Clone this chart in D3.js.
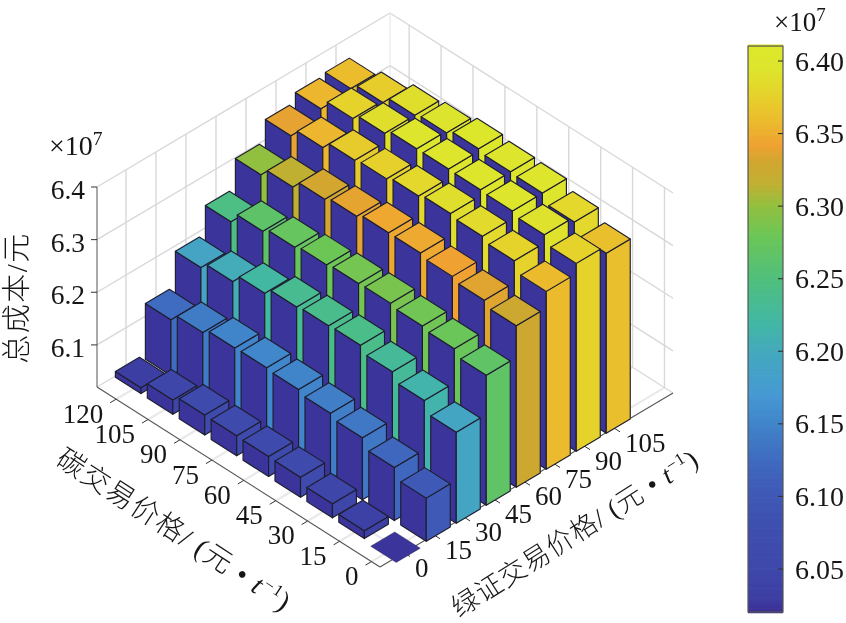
<!DOCTYPE html>
<html>
<head>
<meta charset="utf-8">
<script src="https://cdnjs.cloudflare.com/ajax/libs/d3/7.8.5/d3.min.js"></script>
<style>
html,body{margin:0;padding:0;background:#fff;}
svg{display:block;filter:blur(0.5px);}
text{font-family:"Liberation Serif","Noto Sans CJK SC",serif;fill:#161616;}
</style>
</head>
<body>
<svg id="chart" width="846" height="623"></svg>
<script>
const greenTicks = [0,15,30,45,60,75,90,105];
const carbonTicks = [0,15,30,45,60,75,90,105,120];
const zTicks = [6.1,6.2,6.3,6.4];
const barTicks = [6.05,6.10,6.15,6.20,6.25,6.30,6.35,6.40];

// cost (x10^7) per carbon price, one list per green certificate price
const costG0   = [6.014,6.035,6.047,6.058,6.058,6.058,6.058,6.047,6.031];
const costG15  = [6.102,6.121,6.138,6.145,6.151,6.153,6.151,6.141,6.126];
const costG30  = [6.193,6.214,6.229,6.240,6.238,6.234,6.221,6.204,6.191];
const costG45  = [6.267,6.278,6.282,6.286,6.284,6.280,6.274,6.265,6.244];
const costG60  = [6.327,6.336,6.342,6.347,6.346,6.338,6.331,6.315,6.299];
const costG75  = [6.358,6.377,6.384,6.388,6.382,6.375,6.371,6.356,6.339];
const costG90  = [6.377,6.392,6.398,6.399,6.399,6.398,6.388,6.377,6.356];
const costG105 = [6.362,6.382,6.398,6.399,6.403,6.394,6.388,6.373,6.360];
const costRows = [costG0,costG15,costG30,costG45,costG60,costG75,costG90,costG105];

const colorAt  = [6.02,6.03,6.05,6.08,6.10,6.12,6.15,6.17,6.20,6.22,6.25,6.28,6.30,6.315,6.33,6.342,6.36,6.38,6.395,6.41];
const colorHex = ["#3c2f93","#3d3ea3","#3e48aa","#3e4fb0","#3f58b6","#3f66bd","#4084ca","#4699d3","#44a9bd","#42b8a4","#50bf7c","#6cc656","#93c040","#c0b032","#d0a62f","#efa231","#ebbd2d","#e4d62b","#dde52d","#dce82a"];

const color = d3.scaleLinear().domain(colorAt).range(colorHex).clamp(true);

const svg = d3.select("#chart");

const gU = d3.scaleLinear().domain([-12,134.5]).range([0,1]);
const cU = d3.scaleLinear().domain([-4,129]).range([0,1]);
const zH = d3.scaleLinear().domain([6.02,6.4]).range([0,200]);
const front = {x:380,y:567}, gVec = {x:293,y:-174}, cVec = {x:-283,y:-180};

function project(g,c,z,lift){
  return [front.x + gU(g)*gVec.x + cU(c)*cVec.x,
          front.y + gU(g)*gVec.y + cU(c)*cVec.y - zH(z) - (lift||0)];
}
const gMin=-12,gMax=134.5,cMin=-4,cMax=129,zMin=6.02,zMax=6.4;
const line = d3.line();
const poly = pts => line(pts)+"Z";

// walls and floor
const grid = svg.append("g").attr("fill","none");
function seg(a,b,col,w){grid.append("path").attr("d",line([a,b])).attr("stroke",col).attr("stroke-width",w);}
const gridCol="#d8d8d8";
const wallShift=2.5;
greenTicks.forEach(g=>{
  seg(project(g,cMin,zMin),project(g,cMax,zMin),"#e9e9e9",2.2);
  seg(project(g+wallShift,cMax,zMin),project(g+wallShift,cMax,zMax),gridCol,1.4);
});
carbonTicks.forEach(c=>{
  seg(project(gMin,c,zMin),project(gMax,c,zMin),"#e9e9e9",2.2);
  seg(project(gMax,c,zMin),project(gMax,c,zMax),gridCol,1.4);
});
zTicks.forEach(z=>{
  seg(project(gMin,cMax,z),project(gMax,cMax,z),gridCol,1.4);
  seg(project(gMax,cMax,z),project(gMax,cMin,z),gridCol,1.4);
});
seg(project(gMin,cMax,zMin),project(gMax,cMax,zMin),gridCol,1.2);
seg(project(gMax,cMax,zMin),project(gMax,cMin,zMin),gridCol,1.2);
seg(project(gMax,cMax,zMin),project(gMax,cMax,zMax),"#e4e4e4",1);

// axes
const axisCol="#555";
seg(project(gMin,cMax,zMin),project(gMin,cMax,zMax),axisCol,1);
seg(project(gMin,cMin,zMin),project(gMin,cMax,zMin),axisCol,1.1);
seg(project(gMin,cMin,zMin),project(gMax,cMin,zMin),axisCol,1.1);
const axG = svg.append("g");

carbonTicks.forEach(c=>{
  const p=project(gMin,c,zMin);
  axG.append("path").attr("d",line([p,[p[0]-6,p[1]+3.6]])).attr("stroke","#333").attr("fill","none");
  axG.append("text").attr("x",p[0]-13).attr("y",p[1]+23.5).attr("text-anchor","end").attr("font-size",27).text(c);
});
greenTicks.forEach(g=>{
  const p=project(g,cMin,zMin);
  axG.append("path").attr("d",line([p,[p[0]+6,p[1]+3.8]])).attr("stroke","#333").attr("fill","none");
  axG.append("text").attr("x",p[0]+11).attr("y",p[1]+24).attr("text-anchor","start").attr("font-size",27).text(g);
});
zTicks.forEach(z=>{
  const p=project(gMin,cMax,z);
  axG.append("path").attr("d",line([p,[p[0]-6,p[1]]])).attr("stroke","#333").attr("fill","none");
  axG.append("text").attr("x",85).attr("y",p[1]+12).attr("text-anchor","end").attr("font-size",27.5).text(z.toFixed(1));
});

function sciLabel(sel,x,y,size){
  const t=sel.append("text").attr("x",x).attr("y",y).attr("font-size",size);
  t.append("tspan").text("×10");
  t.append("tspan").attr("dy",-10).attr("font-size",size*0.7).text("7");
}
sciLabel(axG,49,155,28);

// bars, back to front
const half=6;
const cells=[];
greenTicks.forEach((g,i)=>carbonTicks.forEach((c,j)=>cells.push({g,c,z:costRows[i][j]})));
cells.sort((a,b)=>(b.g+b.c)-(a.g+a.c));
const lift=d=>3.3+d.c/120*3.3+d.g/105*1.3;
const edge="#1e1e30", sideCol="#3b349b";
const bar=svg.append("g").selectAll("g").data(cells).join("g")
  .attr("stroke",edge).attr("stroke-width",1.15).attr("stroke-linejoin","round");
bar.append("path").attr("fill",sideCol).attr("d",d=>{
  if(d.z<=zMin) return null;
  const L=lift(d);
  return poly([project(d.g-half,d.c+half,zMin,L),project(d.g-half,d.c-half,zMin,L),project(d.g-half,d.c-half,d.z,L),project(d.g-half,d.c+half,d.z,L)]);
});
bar.append("path").attr("fill",d=>color(d.z)).attr("d",d=>{
  if(d.z<=zMin) return null;
  const L=lift(d);
  return poly([project(d.g-half,d.c-half,zMin,L),project(d.g+half,d.c-half,zMin,L),project(d.g+half,d.c-half,d.z,L),project(d.g-half,d.c-half,d.z,L)]);
});
bar.append("path").attr("fill",d=>d.z<=zMin?sideCol:color(d.z)).attr("stroke-width",d=>d.z<=zMin?0.4:1.15).attr("d",d=>{
  const L=lift(d);
  return poly([project(d.g-half,d.c-half,d.z,L),project(d.g+half,d.c-half,d.z,L),project(d.g+half,d.c+half,d.z,L),project(d.g-half,d.c+half,d.z,L)]);
});

// axis titles
function unitLabel(sel,cx,cy,angle,head,size,spacing){
  const t=sel.append("text").attr("transform",`translate(${cx},${cy}) rotate(${angle})`).attr("text-anchor","middle").attr("font-size",size).attr("font-weight",300).attr("letter-spacing",spacing);
  t.append("tspan").text(head+"/ (元 • ");
  t.append("tspan").attr("font-style","italic").text("t");
  t.append("tspan").attr("dy",-10).attr("font-size",17).text("−1");
  t.append("tspan").attr("dy",10).text(")");
}
unitLabel(svg,169,538,33,"碳交易价格",28,1.4);
unitLabel(svg,580,541,-32.5,"绿证交易价格",27,1);
svg.append("text").attr("transform","translate(27,298) rotate(-90)").attr("text-anchor","middle").attr("font-size",29).attr("font-weight",300).attr("letter-spacing",1.5).text("总成本/元");

// colorbar
const barY=d3.scaleLinear().domain([6.05,6.40]).range([569,61]);
const barX0=748,barX1=783;
const cb=svg.append("g");
const levels=d3.range(0,256).map(i=>6.0204+(6.4103-6.0204)*i/255);
cb.selectAll("rect").data(levels).join("rect")
  .attr("x",barX0).attr("width",barX1-barX0)
  .attr("y",d=>barY(d)-1.6).attr("height",2.9).attr("fill",d=>color(d));
cb.append("rect").attr("x",barX0).attr("y",barY(6.4103)).attr("width",barX1-barX0).attr("height",barY(6.0204)-barY(6.4103)).attr("fill","none").attr("stroke","#555").attr("stroke-width",1.2);
barTicks.forEach(t=>{
  cb.append("path").attr("d",line([[barX1-5,barY(t)],[barX1,barY(t)]])).attr("stroke","#333").attr("stroke-width",1.1);
  cb.append("text").attr("x",795).attr("y",barY(t)+9.5).attr("font-size",28).text(t.toFixed(2));
});
sciLabel(cb,774,31,27);
</script>
</body>
</html>
